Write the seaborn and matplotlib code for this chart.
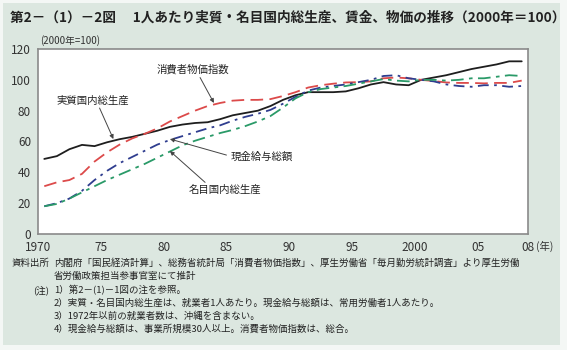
import numpy as np
import pandas as pd
import matplotlib
matplotlib.use("Agg")
import matplotlib.pyplot as plt
from matplotlib.patches import Rectangle
import seaborn as sns

years = list(range(1970, 2009))
real_gdp = [48.7, 50.5, 55, 57.8, 57, 59.5, 61.5, 63, 65, 67,
            69.5, 71, 72, 72.5, 74.5, 77, 78.5, 80, 83, 87,
            90, 92, 92, 92, 92.5, 94.5, 97, 98.5, 97, 96.5,
            100, 101.5, 103, 105, 107, 108.5, 110, 112, 112]
cpi = [31, 33.5, 35, 39, 47, 53, 58, 62, 65, 68.5,
       73, 76.5, 80, 83, 85, 86.5, 87, 87, 87.5, 89.5,
       92, 95, 96.5, 97.5, 98.3, 98.5, 99, 101, 101.5, 101,
       100, 99.2, 98.3, 98, 98, 97.7, 98, 98, 99.5]
wages = [18, 20, 23, 28, 35, 41, 46, 50, 54, 58,
         61, 63.5, 66, 68.5, 70.5, 73.5, 76, 78, 80.5, 84.5,
         89, 93, 95, 96, 97, 98.5, 100, 102.5, 103, 101,
         100, 99, 97, 96, 95.5, 96.5, 96.5, 95.5, 96]
nominal_gdp = [18, 19.5, 23, 27, 31, 35, 38.5, 42, 45.5, 49.5,
               53.5, 57.5, 60.5, 63, 65.5, 67.5, 70, 73, 76.5, 82,
               88, 92, 94, 95, 96, 97.5, 99, 100.5, 99.5, 99,
               100, 100, 99.5, 100, 101, 101, 102, 103, 102.5]

x_ticks = [1970, 1975, 1980, 1985, 1990, 1995, 2000, 2005, 2009]
x_ticklabels = ["1970", "75", "80", "85", "90", "95", "2000", "05", "08"]
y_ticks = [0, 20, 40, 60, 80, 100, 120]

title = "第2－（1）－2図　 1人あたり実質・名目国内総生産、賃金、物価の推移（2000年＝100）"
notes = [
    (12, 263, "資料出所"),
    (54, 263, "内閣府「国民経済計算」、総務省統計局「消費者物価指数」、厚生労働省「毎月勤労統計調査」より厚生労働"),
    (54, 276, "省労働政策担当参事官室にて推計"),
    (33, 290, "(注)"),
    (54, 290, "1）第2－(1)－1図の注を参照。"),
    (54, 303, "2）実質・名目国内総生産は、就業者1人あたり。現金給与総額は、常用労働者1人あたり。"),
    (54, 316, "3）1972年以前の就業者数は、沖縄を含まない。"),
    (54, 329, "4）現金給与総額は、事業所規模30人以上。消費者物価指数は、総合。"),
]

df = pd.DataFrame({"year": years, "real": real_gdp, "cpi": cpi,
                   "wages": wages, "nominal": nominal_gdp})
df["xpos"] = df["year"] + 0.5

sns.set_style("white")
plt.rcParams["font.family"] = ["Noto Sans CJK JP", "DejaVu Sans"]

W, H = 567, 350
fig = plt.figure(figsize=(W / 100, H / 100), dpi=100)
fig.patch.set_facecolor("#f4f7f5")
fig.patches.append(Rectangle((3 / W, 5 / H), 557 / W, 342 / H, transform=fig.transFigure,
                             facecolor="#dce7e0", edgecolor="none", zorder=-10))

ax = fig.add_axes([38 / W, (H - 234) / H, 490 / W, 185 / H])
ax.set_zorder(5)
ax.set_facecolor("white")

sns.lineplot(data=df, x="xpos", y="real", ax=ax, color="#1e1e1e", linewidth=1.3)
sns.lineplot(data=df, x="xpos", y="cpi", ax=ax, color="#dc4a4a", linewidth=1.3,
             linestyle=(0, (7, 3.5)))
sns.lineplot(data=df, x="xpos", y="wages", ax=ax, color="#2f3d8f", linewidth=1.3,
             linestyle=(0, (6, 3, 1.5, 3)))
sns.lineplot(data=df, x="xpos", y="nominal", ax=ax, color="#2a9a68", linewidth=1.3,
             linestyle=(0, (7, 3, 2, 3)))

ax.set_xlim(1970, 2009)
ax.set_ylim(0, 120)
ax.set_xticks(x_ticks)
ax.set_xticklabels(x_ticklabels)
ax.set_yticks(y_ticks)
ax.set_xlabel("")
ax.set_ylabel("")
ax.tick_params(axis="both", length=0, labelsize=8.5, colors="#333333")
ax.tick_params(axis="x", pad=5)
ax.tick_params(axis="y", pad=5)
for sp in ax.spines.values():
    sp.set_color("#8a8a8a")
    sp.set_linewidth(1.2)

ax.text(2009.6, -7.8, "(年)", fontsize=7.5, color="#333333", ha="left", va="center",
        clip_on=False)
ax.text(0.005, 1.015, "(2000年=100)", transform=ax.transAxes, fontsize=7,
        color="#333333", ha="left", va="bottom")

lab_kw = dict(fontsize=7.5, color="#222222", ha="center", va="center")
arr = dict(arrowstyle="-|>", color="#444444", lw=0.7, mutation_scale=6,
           shrinkA=0, shrinkB=0)
ax.text(1982.3, 106.4, "消費者物価指数", **lab_kw)
ax.annotate("", xy=(1984.0, 85.0), xytext=(1982.9, 101.5), arrowprops=arr)
ax.text(1974.4, 86.3, "実質国内総生産", **lab_kw)
ax.annotate("", xy=(1976.0, 61.6), xytext=(1974.9, 81.7), arrowprops=arr)
ax.text(1987.8, 50.0, "現金給与総額", **lab_kw)
ax.annotate("", xy=(1980.5, 61.6), xytext=(1985.0, 51.2), arrowprops=arr)
ax.text(1984.9, 28.5, "名目国内総生産", **lab_kw)
ax.annotate("", xy=(1980.5, 53.8), xytext=(1983.3, 33.5), arrowprops=arr)

fig.text(10 / W, 1 - 18 / H, title, fontsize=9.8, fontweight="bold", color="#222222",
         ha="left", va="center")
for x, y, s in notes:
    fig.text(x / W, 1 - y / H, s, fontsize=6.8, color="#222222", ha="left", va="center")

fig.savefig("out.png", dpi=100, facecolor=fig.get_facecolor())
